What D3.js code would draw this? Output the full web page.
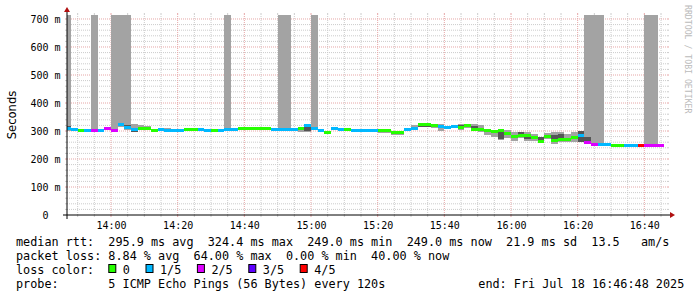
<!DOCTYPE html>
<html><head><meta charset="utf-8">
<script src="https://cdn.jsdelivr.net/npm/d3@7"></script>
<style>
html,body{margin:0;padding:0;background:#fff;}
svg{display:block;}
text{font-family:"DejaVu Sans Mono",monospace;white-space:pre;}
</style></head><body>
<svg id="c" width="697" height="297"></svg>
<script>
// ---- data ----
const startTime = "2025-07-18T13:46:48";
const endTime   = "2025-07-18T16:46:48";
const firstStep = "2025-07-18T13:46:00";
const stepSeconds = 120;
const yTop = 714.2857;

const median = [308,307,303,303,303,300,308,300,324,312,
                304,310,310,302,306,303,303,300,307,307,
                307,300,300,303,307,307,310,310,310,310,
                310,305,305,305,307,310,318,310,300,296,
                310,304,304,300,300,301,301,301,301,296,
                296,304,310,323,323,318,316,312,315,313,
                318,307,305,300,298,300,290,280,285,285,
                276,263,281,266,270,268,275,284,258,252,
                250,250,249,249,249,249,249,249,249,249];
const loss = [1,1,0,1,2,1,2,2,1,1,
              1,0,0,0,1,1,1,1,0,0,
              1,1,0,1,1,1,0,0,0,0,
              0,1,1,1,1,0,1,1,1,0,
              1,1,0,1,1,1,1,0,0,0,
              0,1,1,0,0,0,1,1,1,0,
              0,0,0,0,0,0,0,0,0,0,
              0,0,0,0,0,0,0,1,2,2,
              1,1,0,0,1,1,4,2,2,2];
const smokeLow = [300,303,300,300,300,297,304,297,316,305,
                  300,306,306,300,303,300,300,298,304,304,
                  304,298,298,300,303,300,307,307,307,307,
                  307,302,302,302,304,298,295,306,298,293,
                  306,301,301,297,297,298,298,294,294,285,
                  285,300,306,313,313,312,300,308,310,305,
                  312,300,298,285,278,268,275,265,275,265,
                  265,258,270,255,260,260,262,262,255,249,
                  248,248,247,247,247,247,247,247,247,247];
const smokeHigh = [2000,310,306,306,2000,303,311,2000,2000,2000,
                   326,320,318,308,310,310,308,306,310,310,
                   310,305,303,306,2000,310,312,312,312,312,
                   312,310,2000,2000,310,312,325,2000,304,299,
                   314,307,307,307,306,304,304,304,304,300,
                   300,308,322,330,330,325,326,318,320,325,
                   322,325,320,305,305,305,305,298,295,295,
                   290,275,292,295,295,290,295,300,2000,2000,
                   2000,252,251,251,251,251,251,2000,2000,251];
const darkLow = [305,null,null,null,null,null,null,null,320,308,
                 298,null,null,300,null,null,null,300,null,null,
                 null,300,null,null,null,null,null,null,null,null,
                 null,null,null,null,null,null,300,null,300,null,
                 308,null,null,null,null,null,null,null,null,288,
                 null,null,null,316,316,null,null,306,null,308,
                 null,310,null,null,null,270,null,null,288,270,
                 null,262,null,268,276,null,null,262,258,null,
                 null,null,null,null,null,null,null,null,null,null];
const darkHigh = [318,null,null,null,null,null,null,null,328,322,
                  304,null,null,305,null,null,null,306,null,null,
                  null,305,null,null,null,null,null,null,null,null,
                  null,null,null,null,null,null,326,null,305,null,
                  315,null,null,null,null,null,null,null,null,294,
                  null,null,null,321,321,null,null,312,null,320,
                  null,318,null,null,null,295,null,null,295,290,
                  null,280,null,285,290,null,null,300,280,null,
                  null,null,null,null,null,null,null,null,null,null];

const yTicks = [0,100,200,300,400,500,600,700];
const lossLabels = ["0","1/5","2/5","3/5","4/5"];
const lossColors = ["#26ff00","#00b8ff","#dd00ff","#5e00ff","#ff0000"];
const legendRows = [
  "median rtt:  295.9 ms avg  324.4 ms max  249.0 ms min  249.0 ms now  21.9 ms sd  13.5   am/s",
  "packet loss: 8.84 % avg  64.00 % max  0.00 % min  40.00 % now"
];
const lossTitle = "loss color:";
const probeText = "probe:       5 ICMP Echo Pings (56 Bytes) every 120s";
const endText = "end: Fri Jul 18 16:46:48 2025";
const yLabel = "Seconds";
const watermark = "RRDTOOL / TOBI OETIKER";

// ---- chart ----
const svg = d3.select("#c");
const X0 = 67, X1 = 667, Y0 = 215, Y1 = 15;
const t0 = new Date(startTime), t1 = new Date(endTime);
const x = d3.scaleTime().domain([t0, t1]).range([X0, X1]);
const y = d3.scaleLinear().domain([0, yTop]).range([Y0, Y1]);

const minorCol = "#cccccc", majorCol = "#e6a6a6";
const grid = svg.append("g");
const minorT = d3.timeMinute.every(5).range(t0, t1).filter(d => d.getMinutes() % 20 !== 0);
const majorT = d3.timeMinute.every(20).range(t0, t1);
const minorY = d3.range(20, yTop, 20).filter(v => v % 100 !== 0);
const majorY = yTicks.filter(v => v > 0);

function vlines(data, col) {
  grid.selectAll(null).data(data).enter().append("line")
    .attr("x1", d => x(d)).attr("x2", d => x(d)).attr("y1", Y0).attr("y2", Y1)
    .attr("stroke", col).attr("stroke-dasharray", "1,1");
  grid.selectAll(null).data(data).enter().append("path")
    .attr("d", d => `M${x(d)},${Y0}V${Y0+2}M${x(d)},${Y1-2}V${Y1}`)
    .attr("stroke", col);
}
function hlines(data, col) {
  grid.selectAll(null).data(data).enter().append("line")
    .attr("x1", X0).attr("x2", X1).attr("y1", d => y(d)).attr("y2", d => y(d))
    .attr("stroke", col).attr("stroke-dasharray", "1,1");
  grid.selectAll(null).data(data).enter().append("path")
    .attr("d", d => `M${X0-2},${y(d)}H${X0}M${X1},${y(d)}H${X1+2}`)
    .attr("stroke", col);
}
vlines(minorT, minorCol); hlines(minorY, minorCol);
vlines(majorT, majorCol); hlines(majorY, majorCol);

// data
svg.append("defs").append("clipPath").attr("id", "clip")
  .append("rect").attr("x", X0).attr("y", Y1).attr("width", X1 - X0).attr("height", Y0 - Y1);
const plot = svg.append("g").attr("clip-path", "url(#clip)");
const s0 = new Date(firstStep);
const steps = median.map((m, i) => {
  const a = new Date(s0.getTime() + i * stepSeconds * 1000);
  const b = new Date(a.getTime() + stepSeconds * 1000);
  return {i, xa: Math.round(x(a)), xb: Math.round(x(b))};
});
const hiClip = v => Math.min(v, yTop + 10);
plot.selectAll(".smoke").data(steps).enter().append("rect")
  .attr("x", d => d.xa).attr("width", d => d.xb - d.xa)
  .attr("y", d => y(hiClip(smokeHigh[d.i])))
  .attr("height", d => y(smokeLow[d.i]) - y(hiClip(smokeHigh[d.i])))
  .attr("fill", "#a3a3a3").attr("shape-rendering", "crispEdges");
plot.selectAll(".dark").data(steps.filter(d => darkLow[d.i] != null)).enter().append("rect")
  .attr("x", d => d.xa).attr("width", d => d.xb - d.xa)
  .attr("y", d => y(darkHigh[d.i]))
  .attr("height", d => y(darkLow[d.i]) - y(darkHigh[d.i]))
  .attr("fill", "#555555").attr("shape-rendering", "crispEdges");
plot.selectAll(".med").data(steps).enter().append("rect")
  .attr("x", d => d.xa).attr("width", d => d.xb - d.xa)
  .attr("y", d => Math.round(y(median[d.i]) - 1.5)).attr("height", 3)
  .attr("fill", d => lossColors[loss[d.i]]).attr("shape-rendering", "crispEdges");

// axes lines + arrows
svg.append("path").attr("d", `M${X0-4},${Y0}H${X1+4}`).attr("stroke", "#000");
svg.append("path").attr("d", `M${X0},${Y0+4}V${Y1-4}`).attr("stroke", "#000");
svg.append("path").attr("d", `M${X1+3},${Y0-3}L${X1+3},${Y0+3}L${X1+8},${Y0}Z`).attr("fill", "#b01010");
svg.append("path").attr("d", `M${X0-3},${Y1-3}L${X0+3},${Y1-3}L${X0},${Y1-8}Z`).attr("fill", "#b01010");

// tick labels
const xAxis = svg.append("g").attr("transform", `translate(0,${Y0})`)
  .call(d3.axisBottom(x).tickValues(majorT).tickFormat(d3.timeFormat("%H:%M")).tickSize(0).tickPadding(6.4));
xAxis.select(".domain").remove();
xAxis.selectAll("text").attr("font-family", "DejaVu Sans Mono").attr("font-size", "10px").attr("fill", "#000");
const yAxis = svg.append("g").attr("transform", `translate(${X0},0)`)
  .call(d3.axisLeft(y).tickValues(yTicks).tickFormat(v => v === 0 ? "0  " : v + " m").tickSize(0).tickPadding(6.5));
yAxis.select(".domain").remove();
yAxis.selectAll("text").attr("font-family", "DejaVu Sans Mono").attr("font-size", "10px").attr("fill", "#000").attr("dy", "0.38em");

// axis title
svg.append("text").attr("transform", `translate(15.5,${(Y0+Y1)/2}) rotate(-90)`)
  .attr("text-anchor", "middle").style("font-family", "'DejaVu Sans',sans-serif")
  .attr("font-size", "11.6px").text(yLabel);
// watermark
svg.append("text").attr("transform", "translate(685,5) rotate(90)")
  .attr("font-size", "8.2px").attr("fill", "#bbbbbb").text(watermark);

// legend
const fs = "11.8px", cw = 7.1, lx = 16;
const rowY = [246.2, 260.1, 274, 287.9];
legendRows.forEach((r, i) => svg.append("text").attr("x", lx).attr("y", rowY[i]).attr("font-size", fs).text(r));
svg.append("text").attr("x", lx).attr("y", rowY[2]).attr("font-size", fs).text(lossTitle);
let cx = lx + 13 * cw;
lossLabels.forEach((lab, i) => {
  svg.append("rect").attr("x", cx + 0.5).attr("y", rowY[2] - 9.5).attr("width", 7).attr("height", 8)
    .attr("fill", lossColors[i]).attr("stroke", "#000").attr("stroke-width", 1);
  const tx = cx + 14.5;
  svg.append("text").attr("x", tx).attr("y", rowY[2]).attr("font-size", fs).text(lab);
  cx = tx + lab.length * cw + 15.6;
});
svg.append("text").attr("x", lx).attr("y", rowY[3]).attr("font-size", fs).text(probeText);
svg.append("text").attr("x", 478.3).attr("y", rowY[3]).attr("font-size", fs).text(endText);
</script>
</body></html>
